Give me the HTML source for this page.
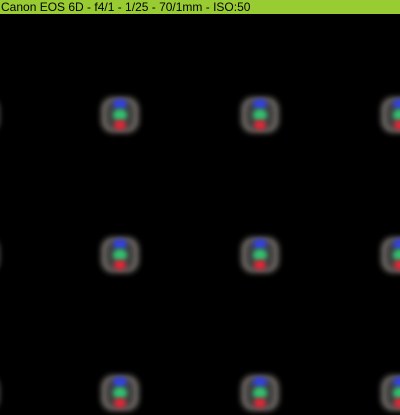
<!DOCTYPE html>
<html><head><meta charset="utf-8"><style>
html,body{margin:0;padding:0;background:#000;width:400px;height:415px;overflow:hidden}
#hdr{position:absolute;left:0;top:0;width:400px;height:14px;background:#99cc33;font:12px "Liberation Sans",sans-serif;line-height:14px;color:#000;padding-left:1px;white-space:nowrap}
svg{position:absolute;left:0;top:0}
</style></head><body>
<div id="hdr">Canon EOS 6D - f4/1 - 1/25 - 70/1mm - ISO:50</div>
<svg width="400" height="415">
<defs>
<filter id="b1" x="-50%" y="-50%" width="200%" height="200%"><feGaussianBlur stdDeviation="3"/></filter>
<filter id="b2" x="-50%" y="-50%" width="200%" height="200%"><feGaussianBlur stdDeviation="2.5"/></filter>
</defs>
<g id="spots"></g>
</svg>
<script>
const cols=[-20,120,260,400];
const rows=[115,255,393];
const g=document.getElementById('spots');
const ns='http://www.w3.org/2000/svg';
function mk(t,a){const e=document.createElementNS(ns,t);for(const k in a)e.setAttribute(k,a[k]);return e;}
rows.forEach(cy=>cols.forEach(cx=>{
  const s=mk('g',{});
  
  
  s.appendChild(mk('rect',{x:cx-19,y:cy-18,width:38,height:36,rx:12,fill:'#6d6864',filter:'url(#b1)'}));
  s.appendChild(mk('rect',{x:cx-14,y:cy-14,width:28,height:28,rx:9,fill:'#3e3c3e',filter:'url(#b1)'}));
  s.appendChild(mk('ellipse',{cx:cx,cy:cy-11,rx:7,ry:5,fill:'#3040e0',filter:'url(#b2)'}));
  s.appendChild(mk('ellipse',{cx:cx,cy:cy,rx:7,ry:6,fill:'#30c070',filter:'url(#b2)'}));
  s.appendChild(mk('ellipse',{cx:cx,cy:cy+10,rx:6,ry:5,fill:'#e02838',filter:'url(#b2)'}));
  g.appendChild(s);
}));
</script>
</body></html>
